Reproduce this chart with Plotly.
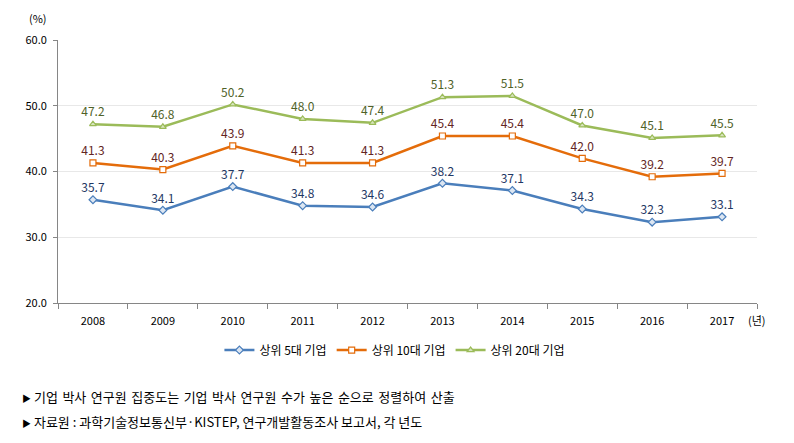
import plotly.graph_objects as go

years = ["2008", "2009", "2010", "2011", "2012", "2013", "2014", "2015", "2016", "2017"]
top5 = [35.7, 34.1, 37.7, 34.8, 34.6, 38.2, 37.1, 34.3, 32.3, 33.1]
top10 = [41.3, 40.3, 43.9, 41.3, 41.3, 45.4, 45.4, 42.0, 39.2, 39.7]
top20 = [47.2, 46.8, 50.2, 48.0, 47.4, 51.3, 51.5, 47.0, 45.1, 45.5]
names = ["상위 5대 기업", "상위 10대 기업", "상위 20대 기업"]
y_ticks = [20, 30, 40, 50, 60]
note1 = "기업 박사 연구원 집중도는 기업 박사 연구원 수가 높은 순으로 정렬하여 산출"
note2 = "자료원 : 과학기술정보통신부·KISTEP, 연구개발활동조사 보고서, 각 년도"

FONT = "Noto Sans CJK KR"

series = [
    (names[0], top5, "#4A7EBB", "diamond", "#DCE6F2", "#1F3864"),
    (names[1], top10, "#E46C0A", "square", "#FFFFFF", "#632523"),
    (names[2], top20, "#9BBB59", "triangle-up", "#D7E4BD", "#4F6228"),
]

fig = go.Figure()
for name, vals, col, sym, fill, tcol in series:
    fig.add_trace(go.Scatter(
        x=years, y=vals, name=name,
        mode="lines+markers+text",
        text=[f"{v:.1f}" for v in vals],
        textposition="top center",
        textfont=dict(family=FONT, size=12, color=tcol),
        line=dict(color=col, width=2.5),
        marker=dict(symbol=sym, size=6, color=fill, line=dict(color=col, width=1.2)),
        cliponaxis=False,
    ))

tri = "<span style='font-size:9px'>▶</span> "
fig.update_layout(
    width=786, height=435,
    margin=dict(l=50, r=37, t=32, b=140),
    paper_bgcolor="white", plot_bgcolor="white",
    font=dict(family=FONT, size=11, color="#000000"),
    showlegend=True,
    legend=dict(
        orientation="h", x=0.482, xanchor="center", y=-0.179, yanchor="middle",
        font=dict(family=FONT, size=12, color="#000000"),
        itemwidth=30, tracegroupgap=0, traceorder="normal",
    ),
    xaxis=dict(
        type="category", showgrid=False, showline=True, linecolor="#868686", linewidth=1,
        ticks="outside", ticklen=5, tickcolor="#868686", tickson="boundaries",
        ticklabelstandoff=8,
        tickfont=dict(family=FONT, size=11, color="#000000"),
        range=[-0.5, 9.5], fixedrange=True,
    ),
    yaxis=dict(
        range=[20, 60], tickvals=y_ticks, ticktext=[f"{v:.1f}" for v in y_ticks],
        showgrid=True, gridcolor="#E8E8E8", gridwidth=1,
        showline=True, linecolor="#868686", linewidth=1,
        ticks="outside", ticklen=4, tickcolor="#868686", ticklabelstandoff=4,
        tickfont=dict(family=FONT, size=11, color="#000000"),
        zeroline=False,
    ),
    annotations=[
        dict(text="(%)", xref="paper", yref="paper", x=-0.0286, y=1.084, showarrow=False,
             xanchor="center", yanchor="middle", font=dict(family=FONT, size=11, color="#000000")),
        dict(text="(년)", xref="paper", yref="paper", x=1.0, y=-0.0646, showarrow=False,
             xanchor="center", yanchor="middle", font=dict(family=FONT, size=11, color="#000000")),
        dict(text=tri + note1.replace(" ", " \u200a\u200a"),
             xref="paper", yref="paper", x=-0.0544, y=-0.357, xanchor="left", yanchor="middle",
             showarrow=False, font=dict(family=FONT, size=13, color="#000000")),
        dict(text=tri + note2,
             xref="paper", yref="paper", x=-0.0544, y=-0.449, xanchor="left", yanchor="middle",
             showarrow=False, font=dict(family=FONT, size=13, color="#000000")),
    ],
)

fig.write_html("out.html")
